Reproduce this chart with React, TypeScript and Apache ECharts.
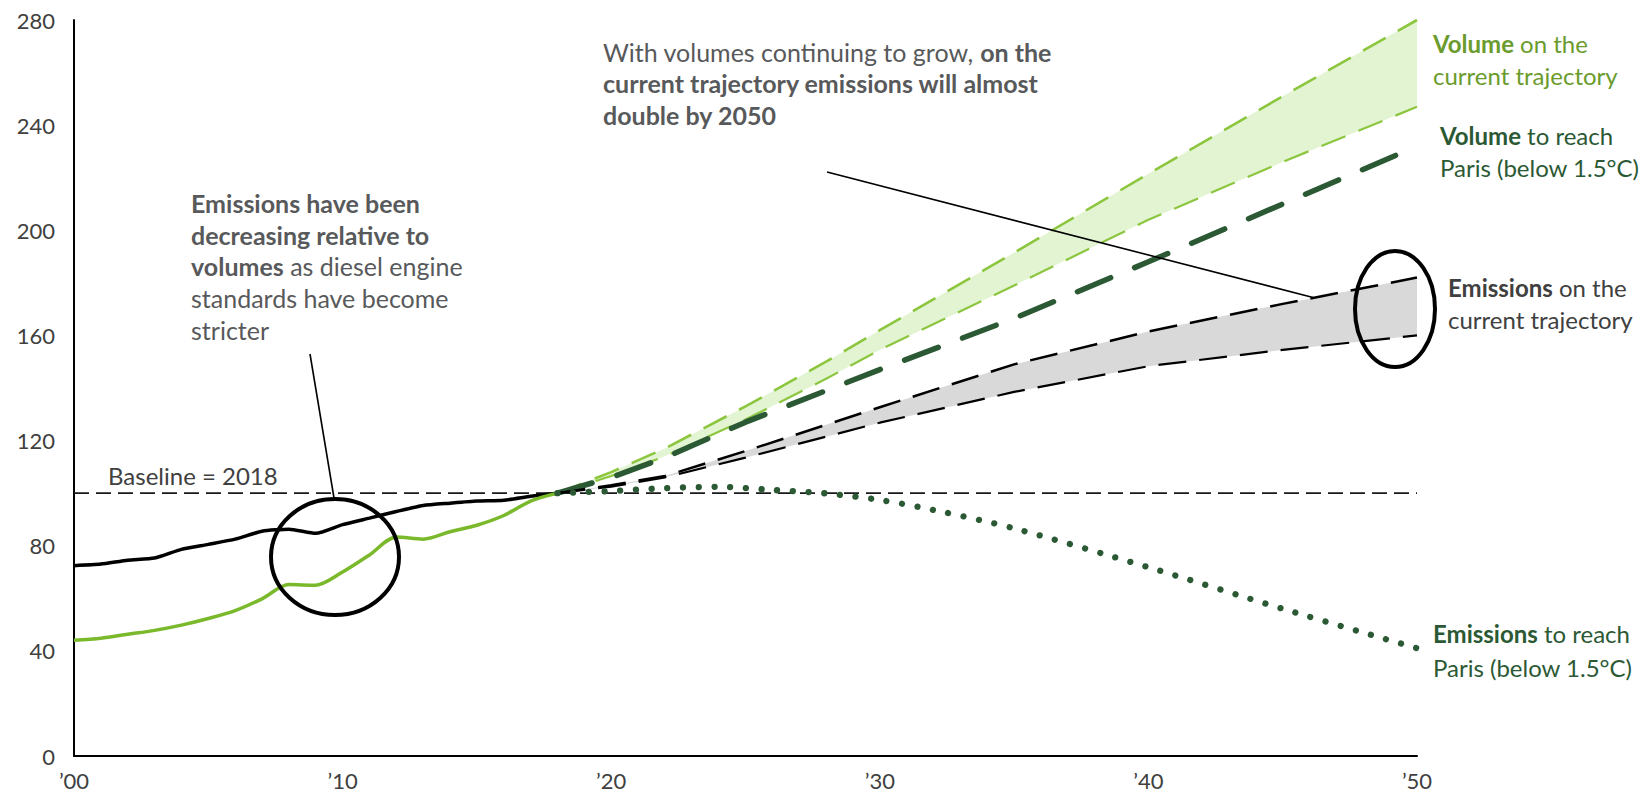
import React, { useEffect, useRef } from "react";
import * as echarts from "echarts";

// ---------- data ----------
const histYears = [2000, 2001, 2002, 2003, 2004, 2005, 2006, 2007, 2008, 2009, 2010, 2011, 2012, 2013, 2014, 2015, 2016, 2017, 2018];
const histEmissions = [72.4, 73, 74.5, 75.3, 78.6, 80.5, 82.5, 85.5, 86.3, 84.7, 88, 90.5, 93, 95.3, 96.2, 97, 97.3, 98.8, 100];
const histVolume = [44, 44.8, 46.3, 47.8, 49.8, 52.3, 55.3, 59.8, 65.2, 65, 70, 76.5, 83.3, 82.5, 85.3, 87.8, 91.5, 97, 100];

const projYears = [2018, 2020, 2022, 2025, 2028, 2030, 2035, 2040, 2045, 2050];
const volumeCurrentHigh = [100, 108, 117, 133, 150, 162, 191.5, 221.5, 251, 280];
const volumeCurrentLow = [100, 106.5, 114, 128, 143.5, 154.5, 179, 204, 226, 247];
const volumeParis = [100, 106, 113.5, 127, 139, 147, 166.5, 188, 210, 232];
const emissionsCurrentHigh = [100, 103, 106.5, 116, 126, 132.7, 149, 161.5, 172, 182];
const emissionsCurrentLow = [100, 102.5, 106, 113.5, 121.5, 126.8, 138.5, 148.3, 154.5, 160];

const parisEmissionYears = [2018, 2020, 2022, 2024, 2026, 2028, 2030, 2032, 2035, 2040, 2045, 2050];
const emissionsParis = [100, 100.8, 101.9, 102.4, 101.2, 99.9, 97.4, 93.6, 86.6, 71.8, 56, 41];

const baselineYears = [2000, 2050];
const baselineValues = [100, 100];

const xTickLabels = ["\u201900", "\u201910", "\u201920", "\u201930", "\u201940", "\u201950"];

// ---------- styling ----------
const FONT = "Lato, 'Open Sans', sans-serif";
const DARK_GREEN = "#2b5934";
const LIGHT_GREEN = "#8cc63f";
const HIST_GREEN = "#7ab92b";
const LABEL_LIGHT_GREEN = "#6a9b2c";
const TEXT_DARK = "#404040";
const NOTE_GREY = "#58595b";
const NOTE_SIZE = 25;
const SIDE_SIZE = 24;

const pairs = (xs: number[], ys: number[]) => xs.map((x, i) => [x, ys[i]]);

function rich(size: number, color: string, lh: number) {
  return {
    n: { fontSize: size, fontFamily: FONT, fontWeight: "normal", fill: color, lineHeight: lh },
    b: { fontSize: size, fontFamily: FONT, fontWeight: "bold", fill: color, lineHeight: lh },
  };
}

function textEl(x: number, y: number, text: string, color: string, size = NOTE_SIZE, lh = 32) {
  return {
    type: "text",
    x,
    y,
    z: 100,
    silent: true,
    style: {
      text,
      rich: rich(size, color, lh),
      fontSize: size,
      fontFamily: FONT,
      fill: color,
      lineHeight: lh,
      align: "left",
      verticalAlign: "top",
    },
  };
}

function bandSeries(low: number[], high: number[], color: string) {
  return {
    type: "custom",
    silent: true,
    clip: false,
    data: projYears.map((y, i) => [y, low[i], high[i]]),
    encode: { x: 0, y: [1, 2] },
    renderItem: (params: any, api: any) => {
      if (params.dataIndex !== 0) return null;
      const pts: number[][] = [];
      for (let i = 0; i < projYears.length; i++) pts.push(api.coord([projYears[i], high[i]]));
      for (let i = projYears.length - 1; i >= 0; i--) pts.push(api.coord([projYears[i], low[i]]));
      return { type: "polygon", shape: { points: pts }, style: { fill: color, stroke: null } };
    },
  };
}

function lineSeries(data: number[][], color: string, width: number, type: any, extra: any = {}) {
  return {
    type: "line",
    data,
    symbol: "none",
    silent: true,
    lineStyle: { color, width, type, ...extra },
  };
}

export default function App() {
  const ref = useRef<HTMLDivElement>(null);

  useEffect(() => {
    if (!ref.current) return;
    const chart = echarts.init(ref.current, null, { renderer: "svg" });
    const option: any = {
      animation: false,
      backgroundColor: "#ffffff",
      grid: { left: 74, right: 228, top: 20, bottom: 38, containLabel: false },
      xAxis: {
        type: "value",
        min: 2000,
        max: 2050,
        interval: 10,
        axisLine: { show: true, lineStyle: { color: "#000", width: 2 } },
        axisTick: { show: false },
        splitLine: { show: false },
        axisLabel: {
          showMinLabel: true,
          showMaxLabel: true,
          margin: 13,
          color: TEXT_DARK,
          fontSize: 22,
          fontFamily: FONT,
          formatter: (v: number) => xTickLabels[Math.round((v - 2000) / 10)],
        },
      },
      yAxis: {
        type: "value",
        min: 0,
        max: 280,
        interval: 40,
        axisLine: { show: true, lineStyle: { color: "#000", width: 2 } },
        axisTick: { show: false },
        splitLine: { show: false },
        axisLabel: { margin: 19, color: TEXT_DARK, fontSize: 22, fontFamily: FONT },
      },
      series: [
        bandSeries(volumeCurrentLow, volumeCurrentHigh, "#e3f4d2"),
        bandSeries(emissionsCurrentLow, emissionsCurrentHigh, "#d9d9d9"),
        lineSeries(pairs(baselineYears, baselineValues), "#1a1a1a", 1.8, [15, 7]),
        { ...lineSeries(pairs(histYears, histEmissions), "#000000", 3.5, "solid"), smooth: 0.2 },
        { ...lineSeries(pairs(histYears, histVolume), HIST_GREEN, 3.5, "solid"), smooth: 0.3 },
        lineSeries(pairs(projYears, volumeCurrentHigh), LIGHT_GREEN, 2.6, [26, 14]),
        lineSeries(pairs(projYears, volumeCurrentLow), LIGHT_GREEN, 2.2, [26, 14]),
        lineSeries(pairs(projYears, volumeParis), DARK_GREEN, 5.5, [36, 26], { cap: "round" }),
        lineSeries(pairs(projYears, emissionsCurrentHigh), "#000000", 2.5, [28, 13]),
        lineSeries(pairs(projYears, emissionsCurrentLow), "#000000", 2.2, [28, 13]),
        { ...lineSeries(pairs(parisEmissionYears, emissionsParis), DARK_GREEN, 6.3, [0.01, 15.7], { cap: "round" }), smooth: 0.3 },
      ],
      graphic: [
        // leader lines
        { type: "line", z: 90, silent: true, shape: { x1: 310, y1: 354, x2: 334, y2: 498 }, style: { stroke: "#000", lineWidth: 1.6 } },
        { type: "line", z: 90, silent: true, shape: { x1: 827, y1: 172, x2: 1315, y2: 298 }, style: { stroke: "#000", lineWidth: 1.6 } },
        // circles
        { type: "ellipse", z: 90, silent: true, shape: { cx: 335, cy: 557, rx: 64, ry: 58 }, style: { fill: null, stroke: "#000", lineWidth: 4 } },
        { type: "ellipse", z: 90, silent: true, shape: { cx: 1395, cy: 309, rx: 40, ry: 58 }, style: { fill: null, stroke: "#000", lineWidth: 4 } },
        // annotations
        textEl(603, 36, "{n|With volumes continuing to grow, }{b|on the}\n{b|current trajectory emissions will almost}\n{b|double by 2050}", NOTE_GREY, NOTE_SIZE, 31.5),
        textEl(191, 187, "{b|Emissions have been}\n{b|decreasing relative to}\n{b|volumes}{n| as diesel engine}\n{n|standards have become}\n{n|stricter}", NOTE_GREY, NOTE_SIZE, 31.7),
        textEl(108, 460, "{n|Baseline = 2018}", TEXT_DARK, 24, 30),
        // right-side labels
        textEl(1433, 27, "{b|Volume}{n| on the}\n{n|current trajectory}", LABEL_LIGHT_GREEN, SIDE_SIZE, 32),
        textEl(1440, 119, "{b|Volume}{n| to reach}\n{n|Paris (below 1.5\u00b0C)}", DARK_GREEN, SIDE_SIZE, 32),
        textEl(1448, 271, "{b|Emissions}{n| on the}\n{n|current trajectory}", TEXT_DARK, SIDE_SIZE, 32),
        textEl(1433, 616, "{b|Emissions}{n| to reach}\n{n|Paris (below 1.5\u00b0C)}", DARK_GREEN, SIDE_SIZE, 34),
      ],
    };
    chart.setOption(option);
    return () => chart.dispose();
  }, []);

  return (
    <div
      ref={ref}
      style={{ position: "fixed", left: 0, top: 0, width: 1645, height: 794, background: "#fff" }}
    />
  );
}
